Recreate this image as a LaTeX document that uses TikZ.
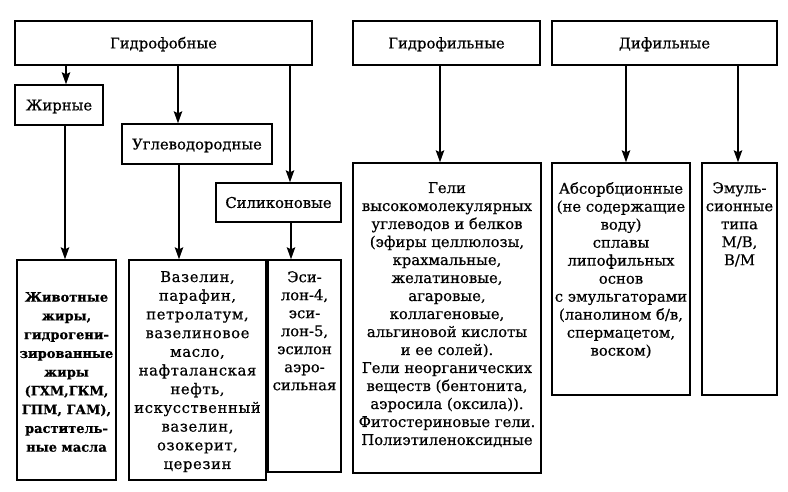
\documentclass[tikz,border=0pt]{standalone}
\usepackage{fontspec}
\setmainfont[FakeBold=0.6]{DejaVu Serif}
\usetikzlibrary{arrows.meta}
\newcommand\mkbox[5]{\node[bx,minimum width={#4-#2},minimum height={#5-#3}] (#1) at ({(#2+#4)/2},{(#3+#5)/2}) {};}
\begin{document}
\begin{tikzpicture}[x=1pt,y=-1pt,
  bx/.style={draw,line width=1.5pt,inner sep=0pt},
  txt/.style={inner sep=0pt,align=center,anchor=north,font=\fontsize{14.8}{18}\selectfont},
  hd/.style={inner sep=0pt,text height=10.8pt,text depth=0pt,font=\fontsize{14.8}{18}\selectfont},
  arr/.style={line width=1.5pt,-{Stealth[length=12pt,width=8.5pt,inset=2pt]}}]
\useasboundingbox (0,0) rectangle (788,491);
% boxes
\mkbox{hfob}{15}{21}{312}{65}
\mkbox{hfil}{353}{21}{540}{65}
\mkbox{dif}{552}{21}{777}{65}
\mkbox{zhir}{15}{85}{103}{125}
\mkbox{ugl}{122}{124}{272}{164}
\mkbox{sil}{216}{183}{341}{222}
\mkbox{zhiv}{17}{260}{116}{480}
\mkbox{vaz}{129}{260}{266}{480}
\mkbox{esil}{268}{260}{341}{472}
\mkbox{geli}{353}{163}{541}{473}
\mkbox{abs}{552}{163}{690}{395}
\mkbox{emul}{702}{163}{777}{395}
% headings
\node[hd] (thfob) at (hfob) {Гидрофобные};
\node[hd] (thfil) at (hfil) {Гидрофильные};
\node[hd] (tdif) at (dif) {Дифильные};
\node[hd] (tzhir) at (zhir) {Жирные};
\node[hd] (tugl) at (ugl) {Углеводородные};
\node[hd] (tsil) at (sil) {Силиконовые};
% contents
\node[txt,font=\fontsize{13}{18.75}\selectfont\bfseries] (tzhiv) at (66.5,292) {Животные\\жиры,\\гидрогени-\\зированные\\жиры\\(ГХМ,ГКМ,\\ГПМ, ГАМ),\\раститель-\\ные масла};
\node[txt,font=\fontsize{14.8}{18.7}\selectfont\addfontfeature{LetterSpace=4}] (tvaz) at (197.5,271) {Вазелин,\\парафин,\\петролатум,\\вазелиновое\\масло,\\нафталанская\\нефть,\\искусственный\\вазелин,\\озокерит,\\церезин};
\node[txt] (tesil) at (304.5,271) {Эси-\\лон-4,\\эси-\\лон-5,\\эсилон\\аэро-\\сильная};
\node[txt] (tgeli) at (447,182) {Гели\\высокомолекулярных\\углеводов и белков\\(эфиры целлюлозы,\\крахмальные,\\желатиновые,\\агаровые,\\коллагеновые,\\альгиновой кислоты\\и ее солей).\\Гели неорганических\\веществ (бентонита,\\аэросила (оксила)).\\Фитостериновые гели.\\Полиэтиленоксидные};
\node[txt] (tabs) at (621,182) {Абсорбционные\\(не содержащие\\воду)\\сплавы\\липофильных\\основ\\с эмульгаторами\\(ланолином б/в,\\спермацетом,\\воском)};
\node[txt] (temul) at (739.5,182) {Эмуль-\\сионные\\типа\\М/В,\\В/М};
% arrow x positions
\coordinate (a1) at (66,0);
\coordinate (a2) at (178,0);
\coordinate (a3) at (290,0);
\coordinate (a4) at (65,0);
\coordinate (a5) at (179,0);
\coordinate (a6) at (291,0);
\coordinate (a7) at (440,0);
\coordinate (a8) at (626,0);
\coordinate (a9) at (738,0);
\draw[arr] (hfob.south -| a1) -- (zhir.north -| a1);
\draw[arr] (hfob.south -| a2) -- (ugl.north -| a2);
\draw[arr] (hfob.south -| a3) -- (sil.north -| a3);
\draw[arr] (zhir.south -| a4) -- (zhiv.north -| a4);
\draw[arr] (ugl.south -| a5) -- (vaz.north -| a5);
\draw[arr] (sil.south -| a6) -- (esil.north -| a6);
\draw[arr] (hfil.south -| a7) -- (geli.north -| a7);
\draw[arr] (dif.south -| a8) -- (abs.north -| a8);
\draw[arr] (dif.south -| a9) -- (emul.north -| a9);
\end{tikzpicture}
\end{document}
